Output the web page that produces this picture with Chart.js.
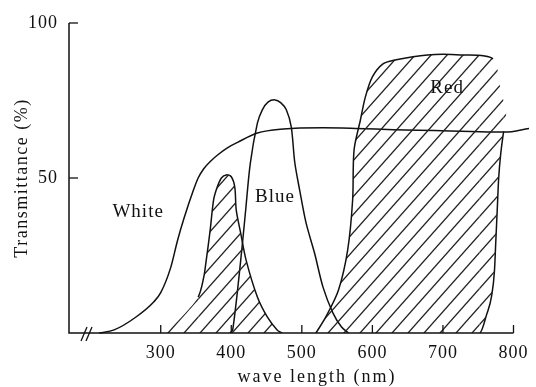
<!DOCTYPE html>
<html>
<head>
<meta charset="utf-8">
<title>Transmittance</title>
<script src="https://cdn.jsdelivr.net/npm/chart.js@4/dist/chart.umd.min.js"></script>
<style>
  html, body { margin: 0; padding: 0; background: #fff; }
  canvas { display: block; }
</style>
</head>
<body>
<canvas id="chart" width="536" height="387"></canvas>
<script>
// ==========================
// Data
// ==========================
const xTicks = [300, 400, 500, 600, 700, 800];
const yTicks = [50, 100];

// "White" curve
const whiteNm = [213, 234, 264, 290, 300, 314, 324, 333, 347, 353, 361, 371, 381, 395, 409, 437, 474, 530, 576, 630, 688, 740, 788, 822];
const whiteT  = [0, 1, 5, 10, 13, 21, 30, 37, 46.5, 50, 53, 55.5, 57.5, 59.8, 61.5, 64.5, 65.8, 66.2, 66, 65.6, 65.3, 65, 64.8, 66];

// hatched peak near 400 nm (no label)
const violetNm = [305, 329, 353, 361, 364, 370, 375, 380, 386, 393, 400, 405, 407, 413, 421, 437, 451, 465, 472];
const violetT  = [0, 5, 11.6, 18, 22.6, 33, 43, 47, 50, 51, 50.4, 47, 39.7, 32.6, 23.5, 11.6, 5.2, 1, 0];

// "Blue" curve
const blueNm = [398, 402, 413, 420, 427, 437, 444, 452, 462, 470, 478, 485, 490, 497, 506, 518, 530, 544, 556, 566];
const blueT  = [0, 1, 22.6, 38.7, 54.8, 67.7, 72, 74.5, 75.2, 74.3, 72, 66.5, 55, 46, 35.5, 25.8, 14.8, 6.5, 2, 0];

// "Red" hatched region: upper outline and lower (right edge) outline
const redTopNm = [520, 534, 552, 565, 572, 574, 583, 590, 600, 615, 632, 678, 725, 771, 781, 790];
const redTopT  = [0, 5.2, 13.9, 26.8, 42.9, 59, 68.7, 76.1, 82.6, 86.8, 88.1, 89.7, 89.7, 88.4, 79.4, 71];
const redBaseNm = [520, 752, 762, 769, 773, 775, 777, 779, 782, 786, 790];
const redBaseT  = [0, 0, 6, 12, 20, 30, 40, 50, 58, 65, 71];

const curveLabels = [
  { text: 'White', nm: 268, t: 39 },
  { text: 'Blue', nm: 462, t: 44 },
  { text: 'Red', nm: 706, t: 79 }
];

// ==========================
// Helpers
// ==========================
const SERIF = "'Liberation Serif', 'DejaVu Serif', serif";
const INK = '#111';

function toPoints(xs, ys) {
  return xs.map((x, i) => ({ x: x, y: ys[i] }));
}

// diagonal hatch tile, lines running up to the right
function makeHatch() {
  const w = 16, h = 18;
  const c = document.createElement('canvas');
  c.width = w;
  c.height = h;
  const g = c.getContext('2d');
  g.strokeStyle = '#222';
  g.lineWidth = 1.3;
  [-1, 0, 1].forEach(k => {
    g.beginPath();
    g.moveTo(-w, 2 * h + k * h);
    g.lineTo(2 * w, -h + k * h);
    g.stroke();
  });
  return g.createPattern(c, 'repeat');
}

const hatch = makeHatch();

// hide outline on a few segments (hatch ends only in the original)
function hideSegments(list) {
  return ctx => list.includes(ctx.p0DataIndex) ? 'rgba(0,0,0,0)' : undefined;
}

// ==========================
// Axes / text drawn by hand
// ==========================
const framePlugin = {
  id: 'frame',
  beforeDraw(chart) {
    chart.ctx.letterSpacing = '1px';
  },
  afterDatasetsDraw(chart) {
    const ctx = chart.ctx;
    const xs = chart.scales.x;
    const ys = chart.scales.y;
    const left = chart.chartArea.left;
    const bottom = ys.getPixelForValue(0);
    const top = ys.getPixelForValue(100);
    const right = xs.getPixelForValue(800);

    ctx.save();
    ctx.strokeStyle = INK;
    ctx.lineWidth = 1.5;
    ctx.beginPath();
    ctx.moveTo(left, top);
    ctx.lineTo(left, bottom);
    ctx.lineTo(right, bottom);
    ctx.stroke();

    // inward ticks
    ctx.lineWidth = 1.3;
    yTicks.forEach(v => {
      const py = ys.getPixelForValue(v);
      ctx.beginPath();
      ctx.moveTo(left, py);
      ctx.lineTo(left + 9, py);
      ctx.stroke();
    });
    xTicks.forEach(v => {
      const px = xs.getPixelForValue(v);
      ctx.beginPath();
      ctx.moveTo(px, bottom);
      ctx.lineTo(px, bottom - 8);
      ctx.stroke();
    });

    // axis break mark
    [0, 5].forEach(dx => {
      ctx.beginPath();
      ctx.moveTo(81 + dx, bottom + 8);
      ctx.lineTo(87 + dx, bottom - 6);
      ctx.stroke();
    });

    // curve names
    ctx.fillStyle = INK;
    ctx.font = '19px ' + SERIF;
    ctx.letterSpacing = '1px';
    ctx.textAlign = 'center';
    ctx.textBaseline = 'middle';
    curveLabels.forEach(l => {
      ctx.fillText(l.text, xs.getPixelForValue(l.nm), ys.getPixelForValue(l.t));
    });

    // axis titles
    ctx.font = '18px ' + SERIF;
    ctx.letterSpacing = '2px';
    ctx.fillText('wave length (nm)', 317, 377);

    ctx.save();
    ctx.translate(22, (top + bottom) / 2);
    ctx.rotate(-Math.PI / 2);
    ctx.letterSpacing = '1.5px';
    ctx.fillText('Transmittance (%)', 0, 0);
    ctx.restore();

    ctx.restore();
  }
};

// ==========================
// Chart
// ==========================
const lineBase = {
  borderColor: INK,
  borderWidth: 1.5,
  pointRadius: 0,
  tension: 0.3
};

new Chart(document.getElementById('chart'), {
  type: 'line',
  data: {
    datasets: [
      Object.assign({}, lineBase, {
        label: 'Red',
        data: toPoints(redTopNm, redTopT),
        fill: '+1',
        backgroundColor: hatch,
        segment: { borderColor: hideSegments([13, 14]) }
      }),
      Object.assign({}, lineBase, {
        label: 'Red edge',
        data: toPoints(redBaseNm, redBaseT),
        fill: false,
        cubicInterpolationMode: 'monotone',
        segment: { borderColor: hideSegments([0, 9]) }
      }),
      Object.assign({}, lineBase, {
        label: 'Violet',
        data: toPoints(violetNm, violetT),
        fill: 'origin',
        backgroundColor: hatch,
        segment: { borderColor: hideSegments([0, 1]) }
      }),
      Object.assign({}, lineBase, {
        label: 'Blue',
        data: toPoints(blueNm, blueT),
        fill: false
      }),
      Object.assign({}, lineBase, {
        label: 'White',
        data: toPoints(whiteNm, whiteT),
        fill: false,
        cubicInterpolationMode: 'monotone',
        clip: false
      })
    ]
  },
  options: {
    responsive: false,
    devicePixelRatio: 1,
    animation: false,
    layout: { padding: { top: 23, right: 16, left: 0, bottom: 0 } },
    plugins: {
      legend: { display: false },
      tooltip: { enabled: false }
    },
    scales: {
      x: {
        type: 'linear',
        min: 170,
        max: 800,
        grid: { display: false, drawTicks: false },
        border: { display: false },
        afterBuildTicks: s => { s.ticks = xTicks.map(v => ({ value: v })); },
        afterFit: s => { s.height = 54; },
        ticks: {
          color: INK,
          padding: 9,
          maxRotation: 0,
          font: { family: SERIF, size: 18 }
        }
      },
      y: {
        min: 0,
        max: 100,
        grid: { display: false, drawTicks: false },
        border: { display: false },
        afterBuildTicks: s => { s.ticks = yTicks.map(v => ({ value: v })); },
        afterFit: s => { s.width = 69; },
        ticks: {
          color: INK,
          padding: 11,
          font: { family: SERIF, size: 18 }
        }
      }
    }
  },
  plugins: [framePlugin]
});
</script>
</body>
</html>
